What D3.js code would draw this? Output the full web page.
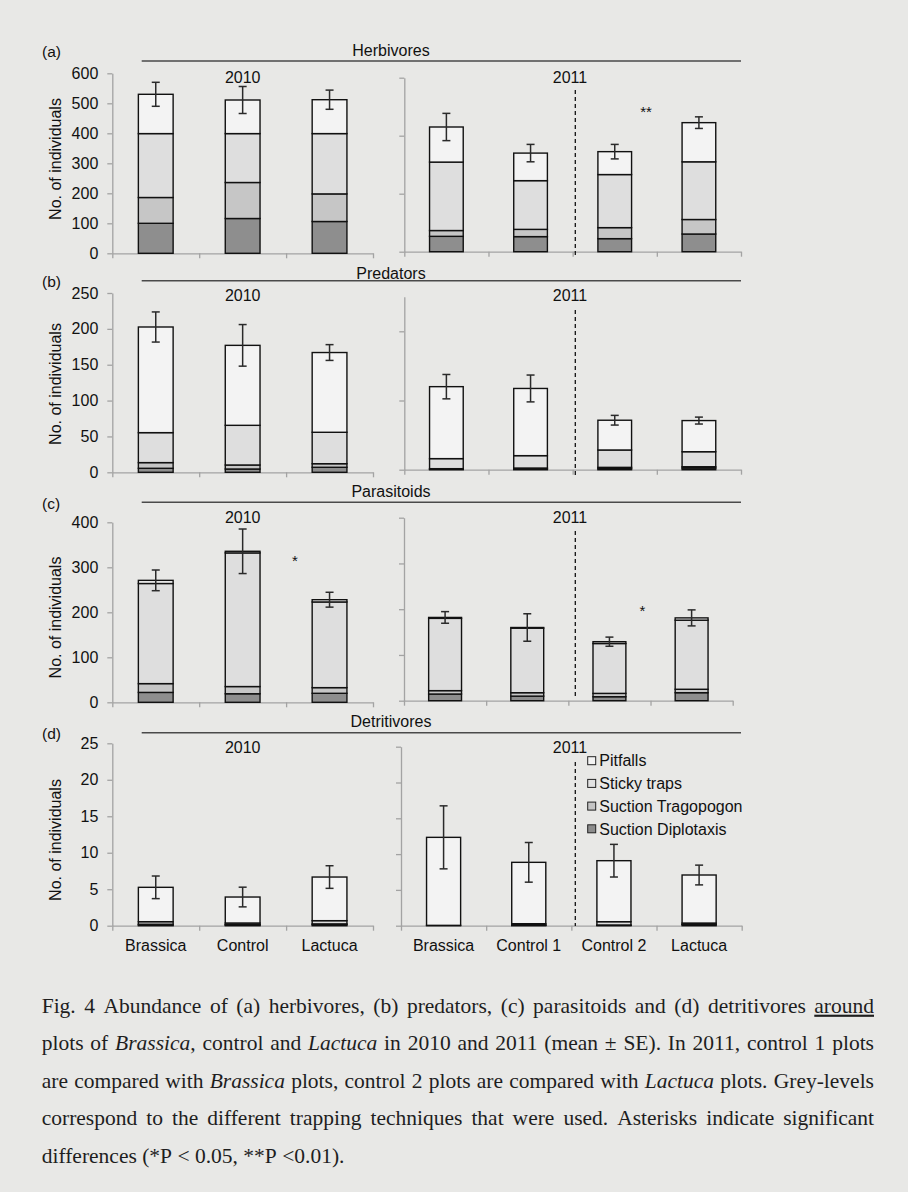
<!DOCTYPE html>
<html>
<head>
<meta charset="utf-8">
<script src="https://cdn.jsdelivr.net/npm/d3@7"></script>
<style>
  html, body { margin: 0; padding: 0; background: #e8e8e6; }
  svg { display: block; }
</style>
</head>
<body>
<svg id="fig" width="908" height="1192"></svg>
<script>
// ---- categories -------------------------------------------------------
const sites2010 = ["Brassica", "Control", "Lactuca"];
const sites2011 = ["Brassica", "Control 1", "Control 2", "Lactuca"];
// legend order (top to bottom); stacking runs the other way (Diplotaxis at the bottom)
const techniques = ["Pitfalls", "Sticky traps", "Suction Tragopogon", "Suction Diplotaxis"];

// ---- mean abundance per site: [Diplotaxis, Tragopogon, Sticky traps, Pitfalls] ----
const herbivores2010 = [[100, 86, 213, 131], [116, 120, 163, 112], [106, 92, 201, 113]];
const herbivores2010SE = [40, 45, 32];
const herbivores2011 = [[53, 20, 236, 121], [52, 25, 168, 95], [45, 38, 183, 79], [61, 50, 199, 135]];
const herbivores2011SE = [47, 30, 25, 20];

const predators2010 = [[5.6, 7.9, 41.8, 147.3], [4.6, 5.6, 55.3, 111.5], [7, 5, 43.8, 111.2]];
const predators2010SE = [21, 29, 11];
const predators2011 = [[0.5, 1, 14.5, 104], [1, 1.4, 17.9, 97.1], [1.5, 1.9, 25.1, 43], [2.4, 1.9, 21.7, 45]];
const predators2011SE = [17.6, 19.4, 7, 5];

const parasitoids2010 = [[22, 19.5, 222.5, 7], [19, 16, 297, 3.6], [20, 12.6, 190.4, 5]];
const parasitoids2010SE = [23, 49.5, 16.5];
const parasitoids2011 = [[14.6, 7.4, 158, 2], [10, 7.5, 141, 1.5], [8.7, 7.3, 109, 4], [17.5, 7.5, 151, 5]];
const parasitoids2011SE = [12.7, 30, 10, 17.5];

const detritivores2010 = [[0.1, 0.1, 0.35, 4.71], [0.1, 0.05, 0.22, 3.56], [0.15, 0.1, 0.44, 5.98]];
const detritivores2010SE = [1.55, 1.35, 1.55];
const detritivores2011 = [[0, 0, 0.05, 12.29], [0.05, 0.05, 0.18, 8.57], [0.05, 0.05, 0.46, 8.52], [0.15, 0.05, 0.17, 6.71]];
const detritivores2011SE = [4.4, 2.77, 2.28, 1.38];

// ---- axis ticks -------------------------------------------------------
const herbTicks2010 = [0, 100, 200, 300, 400, 500, 600];
const herbTicks2011 = [0, 200, 400, 600];
const predTicks2010 = [0, 50, 100, 150, 200, 250];
const predTicks2011 = [0, 100, 200];
const paraTicks2010 = [0, 100, 200, 300, 400];
const paraTicks2011 = [0, 100, 200, 300, 400];
const detrTicks2010 = [0, 5, 10, 15, 20, 25];
const detrTicks2011 = [0, 5, 10, 15, 20, 25];

// ---- caption (~x~ italic, _x_ underlined) ----------------------------
const captionLines = [
  "Fig. 4 Abundance of (a) herbivores, (b) predators, (c) parasitoids and (d) detritivores _around_",
  "plots of ~Brassica~, control and ~Lactuca~ in 2010 and 2011 (mean ± SE). In 2011, control 1 plots",
  "are compared with ~Brassica~ plots, control 2 plots are compared with ~Lactuca~ plots. Grey-levels",
  "correspond to the different trapping techniques that were used. Asterisks indicate significant",
  "differences (*P < 0.05, **P <0.01)."
];

// ---- styling & layout ------------------------------------------------
const fills = ["#8e8e8e", "#c6c6c6", "#dedede", "#f3f3f3"]; // Diplotaxis, Tragopogon, Sticky, Pitfalls
const legendFills = ["#f3f3f3", "#e2e2e2", "#c4c4c4", "#8c8c8c"];
const sans = "'Liberation Sans', Arial, Helvetica, sans-serif";
const axisColor = "#a3a3a3";

const panels = [
  { id: "(a)", title: "Herbivores", idY: 57, titleY: 56, lineY: 61, yearY: 82.5, yLabelY: 159,
    d10: herbivores2010, se10: herbivores2010SE, d11: herbivores2011, se11: herbivores2011SE,
    p10: { top: 73.3, base: 253.3, x0: 112.3, x1: 373, max: 600, ticks: herbTicks2010 },
    p11: { top: 77.7, base: 251.7, x0: 404.3, x1: 741, max: 600, ticks: herbTicks2011 },
    dash: [90, 255], stars: [{ x: 646, y: 110, t: "**" }] },
  { id: "(b)", title: "Predators", idY: 287, titleY: 279, lineY: 280.7, yearY: 300.8, yLabelY: 384,
    d10: predators2010, se10: predators2010SE, d11: predators2011, se11: predators2011SE,
    p10: { top: 293, base: 472.3, x0: 112.3, x1: 373, max: 250, ticks: predTicks2010 },
    p11: { top: 296.7, base: 469.7, x0: 404.3, x1: 741, max: 250, ticks: predTicks2011 },
    dash: [310, 477], stars: [] },
  { id: "(c)", title: "Parasitoids", idY: 509, titleY: 496.7, lineY: 502.3, yearY: 522.6, yLabelY: 617.5,
    d10: parasitoids2010, se10: parasitoids2010SE, d11: parasitoids2011, se11: parasitoids2011SE,
    p10: { top: 522.3, base: 702.3, x0: 112.3, x1: 373, max: 400, ticks: paraTicks2010 },
    p11: { top: 517.7, base: 700.7, x0: 404, x1: 732.7, max: 400, ticks: paraTicks2011 },
    dash: [531, 697], stars: [{ x: 295, y: 559, t: "*" }, { x: 642.3, y: 608.7, t: "*" }] },
  { id: "(d)", title: "Detritivores", idY: 739, titleY: 726.7, lineY: 732.7, yearY: 753.2, yLabelY: 840,
    d10: detritivores2010, se10: detritivores2010SE, d11: detritivores2011, se11: detritivores2011SE,
    p10: { top: 743.3, base: 925.7, x0: 112.3, x1: 373, max: 25, ticks: detrTicks2010 },
    p11: { top: 746.7, base: 925.7, x0: 401, x1: 741.7, max: 25, ticks: detrTicks2011 },
    dash: [762, 926], stars: [], categoryLabels: true }
];

const svg = d3.select("#fig");
svg.append("rect").attr("width", 908).attr("height", 1192).attr("fill", "#e8e8e6");

const stack = d3.stack().keys([0, 1, 2, 3]);

function drawYear(g, rows, se, sites, box, withLabels, yearText, yearX, yearY, showCats) {
  const y = d3.scaleLinear().domain([0, box.max]).range([box.base, box.top]);
  const x = d3.scaleBand().domain(sites).range([box.x0, box.x1])
    .paddingInner(0.6).paddingOuter(0.3);
  const xb = d3.scaleLinear().domain([0, sites.length]).range([box.x0, box.x1]);

  // y axis
  const ya = g.append("g").attr("transform", `translate(${box.x0},0)`)
    .call(d3.axisLeft(y).tickValues(box.ticks).tickSize(5).tickSizeOuter(0).tickPadding(9)
      .tickFormat(withLabels ? d3.format("d") : () => ""));
  ya.select(".domain").attr("stroke", axisColor).attr("stroke-width", 1.3);
  ya.selectAll(".tick line").attr("stroke", axisColor).attr("stroke-width", 1.3);
  ya.selectAll(".tick text").attr("font-family", sans).attr("font-size", 16).attr("fill", "#111");

  // x axis with ticks on category boundaries
  const xa = g.append("g").attr("transform", `translate(0,${box.base})`)
    .call(d3.axisBottom(xb).tickValues(d3.range(sites.length + 1)).tickSize(5).tickSizeOuter(0)
      .tickFormat(() => ""));
  xa.select(".domain").attr("stroke", axisColor).attr("stroke-width", 1.3);
  xa.selectAll(".tick line").attr("stroke", axisColor).attr("stroke-width", 1.3);

  // stacked bars
  const series = stack(rows);
  g.append("g").selectAll("g").data(series).join("g")
    .attr("fill", d => fills[d.key])
    .selectAll("rect").data(d => d.map((v, i) => ({ v, i }))).join("rect")
    .attr("x", d => x(sites[d.i]))
    .attr("width", x.bandwidth())
    .attr("y", d => y(d.v[1]))
    .attr("height", d => Math.max(0, y(d.v[0]) - y(d.v[1])))
    .attr("stroke", "#111").attr("stroke-width", 1.4);

  // error bars (mean ± SE)
  const totals = rows.map(r => d3.sum(r));
  const eb = g.append("g").attr("stroke", "#2a2a2a").attr("stroke-width", 1.5);
  totals.forEach((m, i) => {
    const cx = x(sites[i]) + x.bandwidth() / 2;
    eb.append("line").attr("x1", cx).attr("x2", cx).attr("y1", y(m - se[i])).attr("y2", y(m + se[i]));
    [m - se[i], m + se[i]].forEach(v => {
      eb.append("line").attr("x1", cx - 4).attr("x2", cx + 4).attr("y1", y(v)).attr("y2", y(v));
    });
  });

  // year label
  g.append("text").attr("x", yearX).attr("y", yearY).attr("text-anchor", "middle")
    .attr("font-family", sans).attr("font-size", 16).attr("fill", "#111").text(yearText);

  if (showCats) {
    g.append("g").selectAll("text").data(sites).join("text")
      .attr("x", d => x(d) + x.bandwidth() / 2).attr("y", box.base + 25)
      .attr("text-anchor", "middle").attr("font-family", sans).attr("font-size", 16)
      .attr("fill", "#111").text(d => d);
  }
}

panels.forEach(p => {
  const g = svg.append("g");
  // panel letter, group title and rule
  g.append("text").attr("x", 42).attr("y", p.idY).attr("font-family", sans).attr("font-size", 15.5)
    .attr("fill", "#111").text(p.id);
  g.append("text").attr("x", 391).attr("y", p.titleY).attr("text-anchor", "middle")
    .attr("font-family", sans).attr("font-size", 16).attr("fill", "#111").text(p.title);
  g.append("line").attr("x1", 141.7).attr("x2", 741).attr("y1", p.lineY).attr("y2", p.lineY)
    .attr("stroke", "#4a4a4a").attr("stroke-width", 1.4);
  // y-axis title
  g.append("text").attr("transform", `translate(61,${p.yLabelY}) rotate(-90)`)
    .attr("text-anchor", "middle").attr("font-family", sans).attr("font-size", 16)
    .attr("fill", "#111").text("No. of individuals");

  drawYear(g, p.d10, p.se10, sites2010, p.p10, true, "2010", 242.7, p.yearY, !!p.categoryLabels);
  drawYear(g, p.d11, p.se11, sites2011, p.p11, false, "2011", 570, p.yearY, !!p.categoryLabels);

  // separator between the two 2011 comparisons
  g.append("line").attr("x1", 575.3).attr("x2", 575.3).attr("y1", p.dash[0]).attr("y2", p.dash[1])
    .attr("stroke", "#111").attr("stroke-width", 1.3).attr("stroke-dasharray", "4,3");

  p.stars.forEach(s => {
    g.append("text").attr("x", s.x).attr("y", s.y + 7).attr("text-anchor", "middle")
      .attr("font-family", sans).attr("font-size", 15).attr("fill", "#111").text(s.t);
  });
});

// legend inside panel (d)
const lg = svg.append("g").attr("transform", "translate(587.7,760.7)");
techniques.forEach((t, i) => {
  const row = lg.append("g").attr("transform", `translate(0,${i * 22.7})`);
  row.append("rect").attr("x", 0).attr("y", -4).attr("width", 8).attr("height", 8)
    .attr("fill", legendFills[i]).attr("stroke", "#222").attr("stroke-width", 1);
  row.append("text").attr("x", 11.6).attr("y", 5.7).attr("font-family", sans).attr("font-size", 16)
    .attr("fill", "#111").text(t);
});

// caption, justified line by line
const serif = "'Liberation Serif', 'Times New Roman', serif";
const capX0 = 41.7, capX1 = 874, capBase = 1012.7, capLead = 37.5, capSize = 21.5;
const cap = svg.append("g").attr("font-family", serif).attr("font-size", capSize).attr("fill", "#1e1e1e");
captionLines.forEach((line, li) => {
  const words = line.split(" ");
  const els = words.map(w => {
    const t = cap.append("text").attr("y", capBase + li * capLead);
    w.split(/(~[^~]+~|_[^_]+_)/).filter(s => s.length).forEach(seg => {
      const ts = t.append("tspan");
      if (seg.startsWith("~")) ts.attr("font-style", "italic").text(seg.slice(1, -1));
      else if (seg.startsWith("_") && seg.length > 2) ts.attr("text-decoration", "underline").text(seg.slice(1, -1));
      else ts.text(seg);
    });
    return t;
  });
  const widths = els.map(e => e.node().getComputedTextLength());
  const total = d3.sum(widths);
  const last = li === captionLines.length - 1;
  const gap = last ? capSize * 0.25 : (capX1 - capX0 - total) / (words.length - 1);
  let xPos = capX0;
  els.forEach((e, i) => { e.attr("x", xPos); xPos += widths[i] + gap; });
});
</script>
</body>
</html>
